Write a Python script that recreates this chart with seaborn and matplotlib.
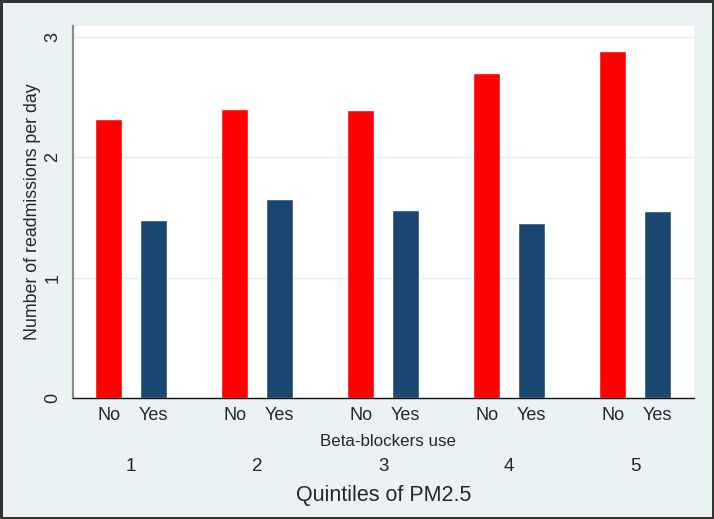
import matplotlib
matplotlib.use("Agg")
import matplotlib.pyplot as plt
import seaborn as sns
import pandas as pd

# ---- data ----
quintiles = ["1", "2", "3", "4", "5"]
beta_levels = ["No", "Yes"]
readm_no = [2.32, 2.40, 2.39, 2.70, 2.88]
readm_yes = [1.48, 1.65, 1.56, 1.45, 1.55]
y_ticks = [0, 1, 2, 3]

ylabel = "Number of readmissions per day"
inner_xlabel = "Beta-blockers use"
outer_xlabel = "Quintiles of PM2.5"

df = pd.DataFrame({
    "quintile": quintiles * 2,
    "beta": ["No"] * len(quintiles) + ["Yes"] * len(quintiles),
    "value": readm_no + readm_yes,
})

sns.set_theme(style="white")
plt.rcParams["font.family"] = ["Liberation Sans", "DejaVu Sans"]

BG = "#EAF2F3"
fig = plt.figure(figsize=(7.14, 5.19), dpi=100, facecolor=BG)
ax = fig.add_axes([73 / 714, 1 - 398 / 519, (694 - 73) / 714, (398 - 26) / 519])
ax.set_facecolor("white")

sns.barplot(data=df, x="quintile", y="value", hue="beta", order=quintiles,
            hue_order=beta_levels, palette={"No": "#FF0000", "Yes": "#1A476F"},
            width=0.714, gap=0.4, saturation=1, legend=False, ax=ax, errorbar=None)

ax.set_xlim(-0.462, 4.466)
ax.set_ylim(0, 3.09)
ax.set_yticks(y_ticks)
ax.set_yticklabels([str(t) for t in y_ticks])
for t in y_ticks[1:]:
    ax.axhline(t, color="#E6EDEF", lw=1, zorder=0)

# x ticks at bar centres
centers = sorted(p.get_x() + p.get_width() / 2 for p in ax.patches if p.get_height() > 0)
ax.set_xticks(centers)
ax.set_xticklabels([beta_levels[i % 2] for i in range(len(centers))], fontsize=13)
ax.tick_params(axis="x", length=0, pad=15.8)
for lbl in ax.get_xticklabels():
    lbl.set_va("baseline")

ax.tick_params(axis="y", length=5.5, width=1, color="#555555", labelsize=13,
               labelrotation=90, pad=3)
for lbl in ax.get_yticklabels():
    lbl.set_va("center")
    lbl.set_ha("right")

ax.set_xlabel("")
ax.set_ylabel(ylabel, fontsize=12.8, labelpad=2)

for s in ["top", "right"]:
    ax.spines[s].set_visible(False)
ax.spines["left"].set_color("#8A8A8A")
ax.spines["left"].set_linewidth(1.6)
ax.spines["bottom"].set_color("#111111")
ax.spines["bottom"].set_linewidth(1.0)

# group labels
for i, q in enumerate(quintiles):
    ax.annotate(q, xy=(i, 0), xycoords=("data", "axes fraction"),
                xytext=(0, -73), textcoords="offset pixels",
                ha="center", va="baseline", fontsize=13.5)

ax.annotate(inner_xlabel, xy=(0.507, 0), xycoords="axes fraction",
            xytext=(0, -48), textcoords="offset pixels",
            ha="center", va="baseline", fontsize=12.2)
ax.annotate(outer_xlabel, xy=(0.5, 0), xycoords="axes fraction",
            xytext=(0, -103), textcoords="offset pixels",
            ha="center", va="baseline", fontsize=15.5)

fig.patch.set_edgecolor("#333333")
fig.patch.set_linewidth(2.5)

fig.savefig("out.png", dpi=100, facecolor=BG, edgecolor=fig.patch.get_edgecolor())
